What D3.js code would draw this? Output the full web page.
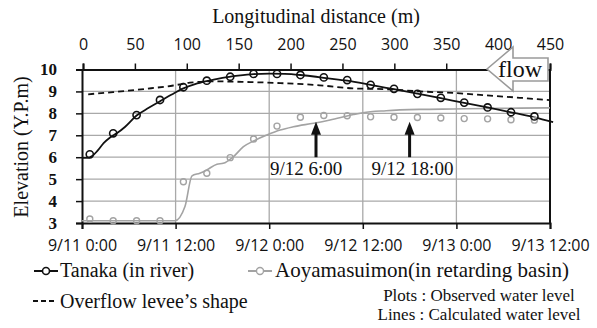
<!DOCTYPE html>
<html><head><meta charset="utf-8">
<script src="https://cdn.jsdelivr.net/npm/d3@7"></script>
<style>
html,body{margin:0;padding:0;background:#fff;}
svg{display:block;}
</style></head>
<body><svg id="c" width="597" height="328"></svg>
<script>
// ---------- data ----------
const timeTicksHours = [0, 12, 24, 36, 48, 60];
const timeTickLabels = ["9/11 0:00", "9/11 12:00", "9/12 0:00", "9/12 12:00", "9/13 0:00", "9/13 12:00"];
const distTicks = [0, 50, 100, 150, 200, 250, 300, 350, 400, 450];
const elevTicks = [3, 4, 5, 6, 7, 8, 9, 10];

// observed (every 3 hours from 9/11 1:00)
const obsHours = [1, 4, 7, 10, 13, 16, 19, 22, 25, 28, 31, 34, 37, 40, 43, 46, 49, 52, 55, 58];
const tanakaObs = [6.13, 7.09, 7.92, 8.61, 9.19, 9.49, 9.67, 9.80, 9.80, 9.75, 9.64, 9.52, 9.30, 9.12, 8.89, 8.71, 8.49, 8.27, 8.05, 7.86];
const aoyamaObs = [3.18, 3.10, 3.10, 3.10, 4.88, 5.27, 5.98, 6.83, 7.42, 7.82, 7.90, 7.89, 7.84, 7.82, 7.81, 7.79, 7.76, 7.75, 7.71, 7.69];

// calculated
const tanakaCalcHours = [0, 0.7, 1.3, 2, 2.8, 3.6, 4.5, 5.5, 7, 8.5, 10, 11.5, 13, 14.5, 16, 18, 20, 22, 24, 26, 28, 30, 31, 34, 37, 40, 43, 46, 49, 52, 55, 58, 60.4];
const tanakaCalc = [5.97, 5.97, 6.05, 6.3, 6.65, 6.9, 7.1, 7.38, 7.9, 8.24, 8.55, 8.86, 9.14, 9.33, 9.47, 9.62, 9.72, 9.79, 9.81, 9.8, 9.75, 9.67, 9.62, 9.49, 9.3, 9.1, 8.9, 8.69, 8.48, 8.27, 8.05, 7.82, 7.6];
const aoyamaCalcHours = [0, 11.9, 13.2, 14.1, 15.1, 16, 17.3, 18.1, 19.4, 20.7, 22, 23.7, 25.4, 27.1, 29.7, 31.8, 34.8, 36, 39, 43.3, 47.6, 52, 56, 60];
const aoyamaCalc = [3.1, 3.1, 3.75, 5.15, 5.27, 5.42, 5.68, 5.72, 6.02, 6.48, 6.74, 7.01, 7.24, 7.39, 7.55, 7.7, 7.95, 8.03, 8.12, 8.18, 8.2, 8.22, 8.24, 8.25];

// overflow levee shape (by longitudinal distance)
const leveeDist = [5, 29, 61, 87, 103, 126, 158, 190, 228, 260, 293, 325, 357, 389, 421, 450];
const leveeElev = [8.87, 8.97, 9.12, 9.27, 9.40, 9.46, 9.43, 9.38, 9.28, 9.14, 9.10, 9.00, 8.93, 8.82, 8.71, 8.60];

const annotHours = [30, 42];
const annotLabels = ["9/12 6:00", "9/12 18:00"];

// ---------- layout ----------
const SERIF = '"Liberation Serif","Times New Roman",serif';
const SANS = '"Open Sans",sans-serif';
const svg = d3.select("#c");
const L = 82, R = 550, T = 69.5, B = 223;
const x = d3.scaleLinear().domain([0, 60]).range([L, R]);
const xd = d3.scaleLinear().domain([0, 450]).range([83, R]);
const y = d3.scaleLinear().domain([3, 10]).range([B, T]);

const black = "#111", gray = "#a3a3a3", grid = "#a9a9a9";

// grid
svg.append("g").selectAll("line").data(elevTicks.filter(v => v > 3 && v < 10)).join("line")
  .attr("x1", L).attr("x2", R).attr("y1", d => y(d)).attr("y2", d => y(d))
  .attr("stroke", grid).attr("stroke-width", 1.3);
svg.append("g").selectAll("line").data(timeTicksHours.filter(h => h > 0 && h < 60)).join("line")
  .attr("x1", d => x(d)).attr("x2", d => x(d)).attr("y1", T).attr("y2", B)
  .attr("stroke", grid).attr("stroke-width", 1.3);

// axes
const gy = svg.append("g").attr("transform", `translate(${L},0)`)
  .call(d3.axisLeft(y).tickValues(elevTicks).tickSize(6).tickPadding(19).tickFormat(d3.format("d")));
gy.select(".domain").attr("stroke", black).attr("stroke-width", 2);
gy.selectAll(".tick line").attr("stroke", black).attr("stroke-width", 1.5);
gy.selectAll("text").style("font-family", SERIF).style("font-size", "17px").style("font-weight", "bold").attr("fill", black);

const gb = svg.append("g").attr("transform", `translate(0,${B})`)
  .call(d3.axisBottom(x).tickValues(timeTicksHours).tickSize(6).tickPadding(11)
    .tickFormat((d, i) => timeTickLabels[i]));
gb.select(".domain").attr("stroke", black).attr("stroke-width", 2);
gb.selectAll(".tick line").attr("stroke", black).attr("stroke-width", 1.5);
gb.selectAll("text").style("font-family", SANS).style("font-size", "16px").attr("fill", black);

const gt = svg.append("g").attr("transform", `translate(0,${T})`)
  .call(d3.axisTop(xd).tickValues(distTicks).tickSize(6).tickPadding(14));
gt.select(".domain").attr("stroke", black).attr("stroke-width", 2);
gt.selectAll(".tick line").attr("stroke", black).attr("stroke-width", 1.5);
gt.selectAll("text").style("font-family", SANS).style("font-size", "16px").attr("fill", black);

// right border
svg.append("line").attr("x1", R).attr("x2", R).attr("y1", T).attr("y2", B)
  .attr("stroke", black).attr("stroke-width", 2);

// titles
svg.append("text").style("font-family", SERIF).attr("x", 316).attr("y", 23).attr("text-anchor", "middle")
  .style("font-size", "20px").attr("fill", black).text("Longitudinal distance (m)");
svg.append("text").style("font-family", SERIF).attr("transform", "translate(28,147) rotate(-90)")
  .attr("text-anchor", "middle").style("font-size", "20px").attr("fill", black).text("Elevation (Y.P.m)");

// lines
const lineT = d3.line().x(d => x(d[0])).y(d => y(d[1])).curve(d3.curveMonotoneX);
const lineD = d3.line().x(d => xd(d[0])).y(d => y(d[1])).curve(d3.curveMonotoneX);

svg.append("path").datum(d3.zip(aoyamaCalcHours, aoyamaCalc)).attr("d", lineT)
  .attr("fill", "none").attr("stroke", gray).attr("stroke-width", 1.6);
svg.append("path").datum(d3.zip(leveeDist, leveeElev)).attr("d", lineD)
  .attr("fill", "none").attr("stroke", black).attr("stroke-width", 1.8).attr("stroke-dasharray", "6,4");
svg.append("path").datum(d3.zip(tanakaCalcHours, tanakaCalc)).attr("d", lineT)
  .attr("fill", "none").attr("stroke", black).attr("stroke-width", 1.8);

svg.append("g").selectAll("circle").data(d3.zip(obsHours, aoyamaObs)).join("circle")
  .attr("cx", d => x(d[0])).attr("cy", d => y(d[1])).attr("r", 3)
  .attr("fill", "none").attr("stroke", gray).attr("stroke-width", 1.4);
svg.append("g").selectAll("circle").data(d3.zip(obsHours, tanakaObs)).join("circle")
  .attr("cx", d => x(d[0])).attr("cy", d => y(d[1])).attr("r", 3.6)
  .attr("fill", "none").attr("stroke", black).attr("stroke-width", 1.6);

// annotations
const ann = svg.append("g").selectAll("g").data(d3.zip(annotHours, annotLabels)).join("g");
ann.append("line").attr("x1", d => x(d[0])).attr("x2", d => x(d[0]))
  .attr("y1", y(6)).attr("y2", y(7.3)).attr("stroke", black).attr("stroke-width", 3);
ann.append("path").attr("d", d => {
  const cx = x(d[0]), ty = y(7.62);
  return `M${cx},${ty} L${cx - 5},${ty + 13} L${cx + 5},${ty + 13} Z`;
}).attr("fill", black);
ann.append("text").style("font-family", SERIF).style("font-size", "19px").attr("fill", black)
  .attr("x", (d, i) => x(d[0]) + (i === 0 ? -46 : -38)).attr("y", y(5.19))
  .text(d => d[1]);

// flow arrow
const fx = 487, fy = 69;
svg.append("path")
  .attr("d", `M${fx},${fy} L${fx + 26},${fy - 22} L${fx + 26},${fy - 11} L${fx + 61},${fy - 11} L${fx + 61},${fy + 12} L${fx + 26},${fy + 12} L${fx + 26},${fy + 22} Z`)
  .attr("fill", "#fff").attr("stroke", "#9a9a9a").attr("stroke-width", 1.6);
svg.append("text").style("font-family", SERIF).attr("x", 520).attr("y", 77).attr("text-anchor", "middle")
  .style("font-size", "24px").attr("fill", black).text("flow");

// legend
const lg = svg.append("g");
lg.append("line").attr("x1", 34).attr("x2", 58).attr("y1", 271).attr("y2", 271).attr("stroke", black).attr("stroke-width", 2);
lg.append("circle").attr("cx", 46).attr("cy", 271).attr("r", 3.5).attr("fill", "#fff").attr("stroke", black).attr("stroke-width", 1.6);
lg.append("text").style("font-family", SERIF).attr("x", 60).attr("y", 277).style("font-size", "20px").attr("fill", black).text("Tanaka (in river)");
lg.append("line").attr("x1", 248).attr("x2", 272).attr("y1", 271).attr("y2", 271).attr("stroke", gray).attr("stroke-width", 2);
lg.append("circle").attr("cx", 260).attr("cy", 271).attr("r", 3.5).attr("fill", "#fff").attr("stroke", gray).attr("stroke-width", 1.4);
lg.append("text").style("font-family", SERIF).attr("x", 275).attr("y", 277).style("font-size", "21px").attr("fill", black).text("Aoyamasuimon(in retarding basin)");
lg.append("line").attr("x1", 33).attr("x2", 56).attr("y1", 301).attr("y2", 301).attr("stroke", black).attr("stroke-width", 1.8).attr("stroke-dasharray", "5,3");
lg.append("text").style("font-family", SERIF).attr("x", 60).attr("y", 308).style("font-size", "20px").attr("fill", black).text("Overflow levee\u2019s shape");
lg.append("text").style("font-family", SERIF).attr("x", 479).attr("y", 301).attr("text-anchor", "middle").style("font-size", "17px").attr("fill", black).text("Plots : Observed water level");
lg.append("text").style("font-family", SERIF).attr("x", 479).attr("y", 320).attr("text-anchor", "middle").style("font-size", "17px").attr("fill", black).text("Lines : Calculated water level");
</script></body></html>
